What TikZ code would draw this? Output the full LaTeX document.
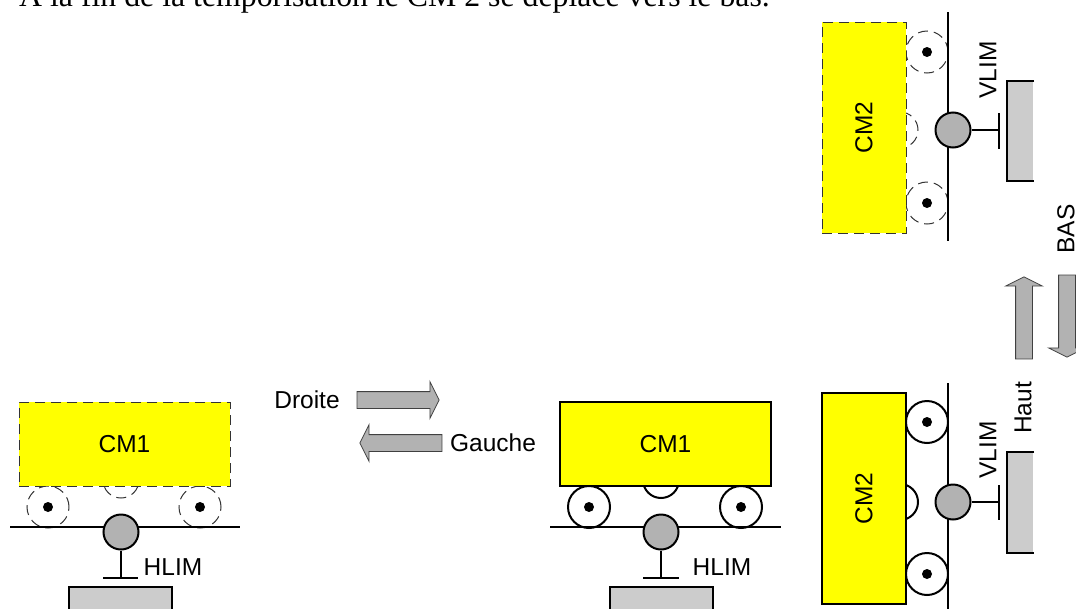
\documentclass[tikz,border=0pt]{standalone}
\usepackage{fontspec}
\setmainfont{Liberation Sans}
\newfontfamily\titlefont{Liberation Serif}
\usetikzlibrary{shapes.arrows}
\definecolor{cmyellow}{HTML}{FFFF00}
\definecolor{sensorgray}{HTML}{B2B2B2}
\definecolor{blockgray}{HTML}{CCCCCC}
\tikzset{
  lbl/.style={inner sep=0pt, font=\fontsize{24.5}{28}\selectfont},
  cmbox/.style={draw, fill=cmyellow, line width=2pt, inner sep=0pt, font=\fontsize{24.5}{28}\selectfont},
  ghost/.style={draw=black!80, line width=1pt, dash pattern=on 10pt off 6pt},
  wheel/.style={draw, circle, fill=white, line width=2pt, minimum size=42pt, inner sep=0pt},
  hub/.style={circle, fill=black, minimum size=10pt, inner sep=0pt},
  bump/.style={draw, circle, line width=2pt, minimum size=36pt, inner sep=0pt},
  sensor/.style={draw, circle, fill=sensorgray, line width=2pt, minimum size=35pt, inner sep=0pt},
  rail/.style={line width=2pt},
  fatarrow/.style={draw=black!75, fill=sensorgray, line width=0.8pt, single arrow, inner sep=8pt, outer sep=0pt,
    minimum width=36pt, minimum height=82pt, single arrow head extend=10pt, single arrow tip angle=127}
}
\begin{document}
\begin{tikzpicture}[x=1pt,y=-1pt]
\useasboundingbox (0,0) rectangle (1076,608);
\clip (0,0) rectangle (1076,608);
\node[anchor=base west, inner sep=0pt, font=\titlefont\fontsize{31.8}{36}\selectfont] (title) at (19,6) {A la fin de la temporisation le CM 2 se déplace vers le bas.};
% chariot horizontal, position gauche
\node[bump, ghost] (bumpa) at (121,480) {};
\node[wheel, ghost] (wheela) at (48,507) {};
\node[wheel, ghost] (wheelb) at (200,507) {};
\node[hub] at (wheela.center) {};
\node[hub] at (wheelb.center) {};
\node[cmbox, ghost, minimum width=211pt, minimum height=84pt] (cma) at (124.5,444) {CM1};
\coordinate (raila) at (10,527);
\coordinate (railb) at (240,527);
\draw[rail] (raila) -- (railb);
\node[sensor] (hliml) at (121,532) {};
\node[inner sep=0pt] (stopl) at (121,578) {};
\draw[rail] (hliml) -- (stopl.center);
\draw[rail] (103,578) -- (138,578);
\node[lbl] (hlimlt) at (173,567) {HLIM};
\draw[fill=blockgray, line width=2pt] (69,615) -- (69,587) -- (172,587) -- (172,615);
% chariot horizontal, position droite
\node[bump] (bumpb) at (661,480) {};
\node[wheel] (wheelc) at (589,507) {};
\node[wheel] (wheeld) at (741,507) {};
\node[hub] at (wheelc.center) {};
\node[hub] at (wheeld.center) {};
\node[cmbox, minimum width=211pt, minimum height=84pt] (cmb) at (665.5,444) {CM1};
\coordinate (railc) at (550,527);
\coordinate (raild) at (781,527);
\draw[rail] (railc) -- (raild);
\node[sensor] (hlimr) at (661,532) {};
\node[inner sep=0pt] (stopr) at (661,578) {};
\draw[rail] (hlimr) -- (stopr.center);
\draw[rail] (643,578) -- (679,578);
\node[lbl] (hlimrt) at (722,567) {HLIM};
\draw[fill=blockgray, line width=2pt] (610,615) -- (610,587) -- (713,587) -- (713,615);
% fleches horizontales
\node[lbl] (droite) at (307,400) {Droite};
\node[fatarrow] (adroite) at (396,400) {};
\node[fatarrow, rotate=180] (agauche) at (403,443) {};
\node[lbl] (gauche) at (493,443) {Gauche};
% chariot vertical, position haute
\node[bump, ghost] (bumpc) at (900,130) {};
\node[wheel, ghost] (wheele) at (927,52) {};
\node[wheel, ghost] (wheelf) at (927,203) {};
\node[hub] at (wheele.center) {};
\node[hub] at (wheelf.center) {};
\node[cmbox, ghost, minimum width=84pt, minimum height=211pt] (cmc) at (864,127.5) {};
\node[lbl, rotate=90] (cmct) at (cmc.center) {CM2};
\coordinate (raile) at (948,12);
\coordinate (railf) at (948,241);
\draw[rail] (raile) -- (railf);
\node[sensor] (vlimh) at (953,130) {};
\node[inner sep=0pt] (stoph) at (999,130) {};
\draw[rail] (vlimh) -- (stoph.center);
\draw[rail] (999,113) -- (999,149);
\node[lbl, rotate=90] (vlimht) at (988,70) {VLIM};
\fill[blockgray] (1007,81) rectangle (1033,181);
\draw[line width=2pt] (1034,81) -- (1007,81) -- (1007,181) -- (1034,181);
% chariot vertical, position basse
\node[bump] (bumpd) at (900,502) {};
\node[wheel] (wheelg) at (927,422) {};
\node[wheel] (wheelh) at (927,574) {};
\node[hub] at (wheelg.center) {};
\node[hub] at (wheelh.center) {};
\node[cmbox, minimum width=84pt, minimum height=211pt] (cmd) at (864,498.5) {};
\node[lbl, rotate=90] (cmdt) at (cmd.center) {CM2};
\coordinate (railg) at (948,383);
\coordinate (railh) at (948,615);
\draw[rail] (railg) -- (railh);
\node[sensor] (vlimb) at (953,502) {};
\node[inner sep=0pt] (stopb) at (999,502) {};
\draw[rail] (vlimb) -- (stopb.center);
\draw[rail] (999,485) -- (999,520);
\node[lbl, rotate=90] (vlimbt) at (988,450) {VLIM};
\fill[blockgray] (1007,452) rectangle (1033,553);
\draw[line width=2pt] (1034,452) -- (1007,452) -- (1007,553) -- (1034,553);
% fleches verticales
\node[fatarrow, rotate=90] (ahaut) at (1024,320) {};
\node[fatarrow, rotate=-90] (abas) at (1067,314) {};
\node[lbl, rotate=90] (haut) at (1023,408) {Haut};
\node[lbl, rotate=90] (bas) at (1066,229) {BAS};
\end{tikzpicture}
\end{document}
